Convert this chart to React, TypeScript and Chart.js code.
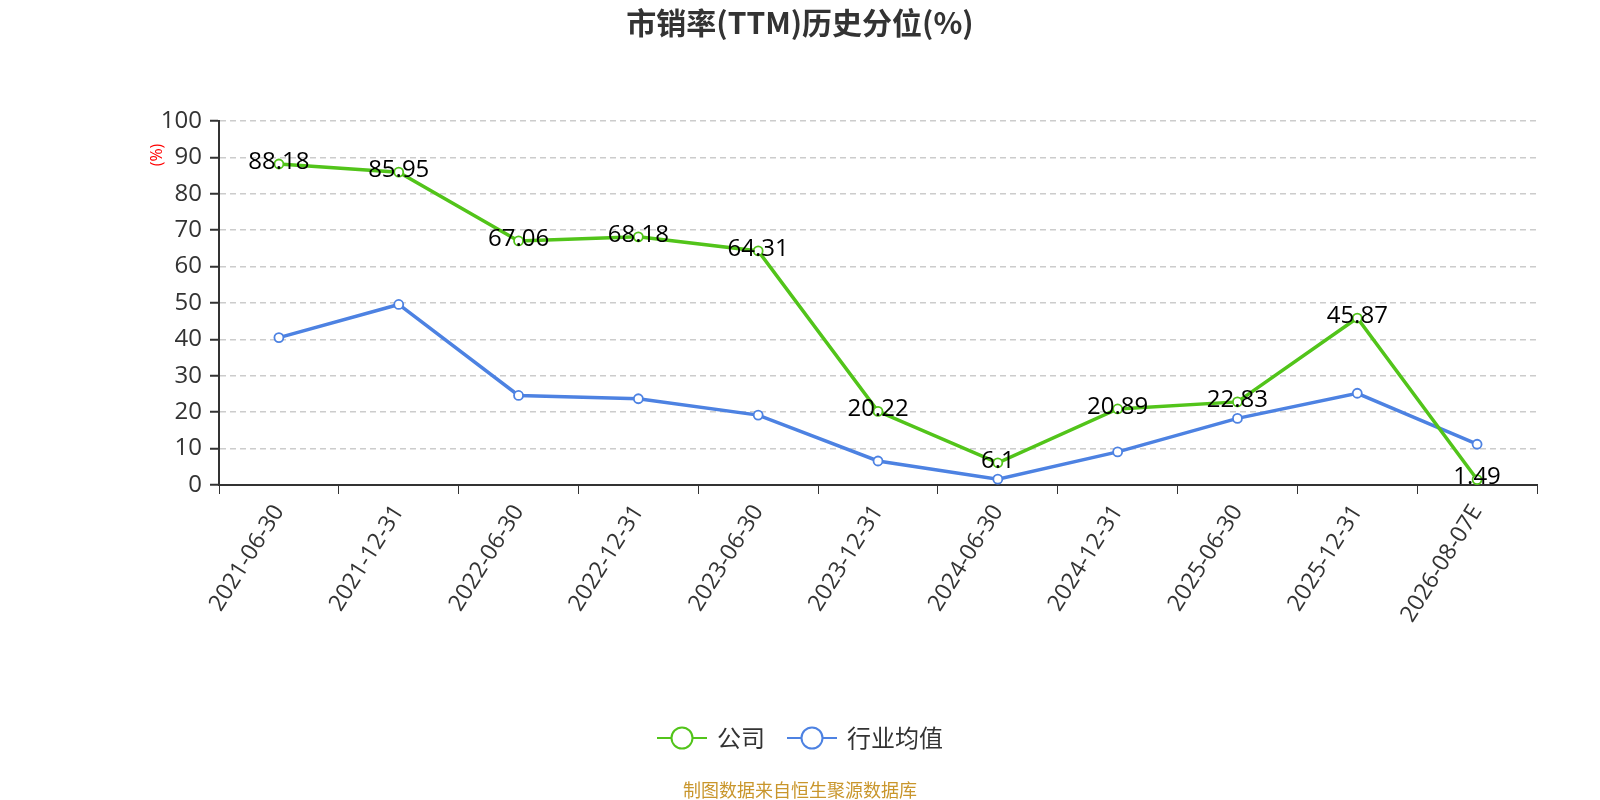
import { useEffect, useRef } from 'react'
import { Chart, registerables } from 'chart.js'
import type { ChartConfiguration, Plugin } from 'chart.js'

Chart.register(...registerables)

const categories = [
  '2021-06-30', '2021-12-31', '2022-06-30', '2022-12-31', '2023-06-30', '2023-12-31',
  '2024-06-30', '2024-12-31', '2025-06-30', '2025-12-31', '2026-08-07E',
]
const companyValues = [88.18, 85.95, 67.06, 68.18, 64.31, 20.22, 6.1, 20.89, 22.83, 45.87, 1.49]
const industryValues = [40.5, 49.6, 24.6, 23.7, 19.2, 6.6, 1.6, 9.1, 18.3, 25.2, 11.2]
const yTicks = [0, 10, 20, 30, 40, 50, 60, 70, 80, 90, 100]

const titleText = '市销率(TTM)历史分位(%)'
const footerText = '制图数据来自恒生聚源数据库'
const yTitle = '(%)'
const seriesNames = ['公司', '行业均值']

const GREEN = '#52c41a'
const BLUE = '#4d82e2'
const FONT = '"Open Sans", "Noto Sans CJK SC", sans-serif'
const CJK = '"Noto Sans CJK SC", "Open Sans", sans-serif'

// title, y-axis name, value labels, legend and source line
const decorations: Plugin<'line'> = {
  id: 'decorations',
  afterDatasetsDraw(chart) {
    const { ctx } = chart
    ctx.save()

    ctx.fillStyle = '#333'
    ctx.font = `bold 30px ${CJK}`
    ctx.textAlign = 'center'
    ctx.textBaseline = 'middle'
    ctx.fillText(titleText, 800, 23)

    ctx.save()
    ctx.translate(157, 155)
    ctx.rotate(-Math.PI / 2)
    ctx.fillStyle = '#ff0000'
    ctx.font = `16px ${FONT}`
    ctx.fillText(yTitle, 0, 0)
    ctx.restore()

    const meta = chart.getDatasetMeta(0)
    ctx.fillStyle = '#000'
    ctx.font = `24px ${FONT}`
    meta.data.forEach((pt, i) => {
      ctx.fillText(String(companyValues[i]), pt.x, pt.y - 2)
    })

    // legend
    const colors = [GREEN, BLUE]
    ctx.font = `24px ${CJK}`
    const widths = seriesNames.map((n) => ctx.measureText(n).width)
    const iconW = 50
    const gap = 10
    const itemGap = 22
    const total = widths.reduce((a, w) => a + iconW + gap + w, 0) + itemGap
    let x = 800 - total / 2
    const ly = 738
    seriesNames.forEach((name, i) => {
      ctx.strokeStyle = colors[i]
      ctx.lineWidth = 2
      ctx.beginPath()
      ctx.moveTo(x, ly)
      ctx.lineTo(x + iconW, ly)
      ctx.stroke()
      ctx.beginPath()
      ctx.arc(x + iconW / 2, ly, 10.5, 0, Math.PI * 2)
      ctx.fillStyle = '#fff'
      ctx.fill()
      ctx.stroke()
      ctx.fillStyle = '#333'
      ctx.textAlign = 'left'
      ctx.fillText(name, x + iconW + gap, ly)
      x += iconW + gap + widths[i] + itemGap
    })

    ctx.textAlign = 'center'
    ctx.fillStyle = '#c9962c'
    ctx.font = `18px ${CJK}`
    ctx.fillText(footerText, 800, 790)

    ctx.restore()
  },
}

export default function App() {
  const canvasRef = useRef<HTMLCanvasElement>(null)

  useEffect(() => {
    document.body.style.margin = '0'
    if (!canvasRef.current) return

    const config: ChartConfiguration<'line'> = {
      type: 'line',
      data: {
        labels: categories,
        datasets: [
          {
            label: seriesNames[0],
            data: companyValues,
            borderColor: GREEN,
            backgroundColor: '#fff',
            borderWidth: 3.5,
            pointRadius: 4.5,
            pointBorderWidth: 1.8,
            pointBackgroundColor: '#fff',
            pointBorderColor: GREEN,
            tension: 0,
          },
          {
            label: seriesNames[1],
            data: industryValues,
            borderColor: BLUE,
            backgroundColor: '#fff',
            borderWidth: 3.5,
            pointRadius: 4.5,
            pointBorderWidth: 1.8,
            pointBackgroundColor: '#fff',
            pointBorderColor: BLUE,
            tension: 0,
          },
        ],
      },
      options: {
        responsive: false,
        animation: false,
        layout: { padding: { top: 121, right: 63, left: 0, bottom: 0 } },
        plugins: {
          legend: { display: false },
          title: { display: false },
          tooltip: { enabled: false },
        },
        scales: {
          x: {
            offset: true,
            afterFit: (scale) => {
              scale.height = 315
            },
            grid: {
              display: true,
              drawOnChartArea: false,
              drawTicks: true,
              tickLength: 9,
              color: '#333',
              offset: true,
            },
            border: { color: '#333', width: 2 },
            ticks: {
              minRotation: 58,
              maxRotation: 58,
              autoSkip: false,
              padding: 6,
              color: '#333',
              font: { size: 23, family: FONT },
            },
          },
          y: {
            min: 0,
            max: 100,
            afterFit: (scale) => {
              scale.width = 219
            },
            afterBuildTicks: (scale) => {
              scale.ticks = yTicks.map((v) => ({ value: v }))
            },
            grid: {
              color: '#cccccc',
              lineWidth: 1.5,
              tickColor: '#333',
              tickLength: 9,
              tickWidth: 2,
            },
            border: { color: '#333', width: 2, dash: [6, 4] },
            ticks: {
              padding: 8,
              color: '#333',
              font: { size: 24, family: FONT },
            },
          },
        },
      },
      plugins: [decorations],
    }

    const chart = new Chart(canvasRef.current, config)
    return () => chart.destroy()
  }, [])

  return (
    <div style={{ width: 1600, height: 800 }}>
      <canvas ref={canvasRef} width={1600} height={800} style={{ display: 'block' }} />
    </div>
  )
}
